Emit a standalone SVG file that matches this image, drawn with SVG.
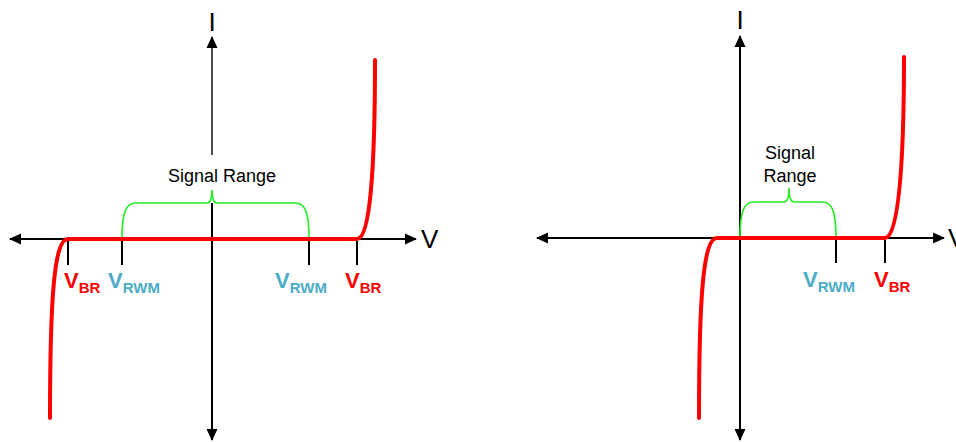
<svg xmlns="http://www.w3.org/2000/svg" width="956" height="442" viewBox="0 0 956 442">
<defs>
<marker id="arr" viewBox="0 0 12 12" refX="11" refY="6" markerWidth="12" markerHeight="12" markerUnits="userSpaceOnUse" orient="auto-start-reverse">
<path d="M0,0.5 L12,6 L0,11.5 Z" fill="#000"/>
</marker>
<style>
.axis{stroke:#000;stroke-width:2;fill:none}
.tick{stroke:#000;stroke-width:2}
.curve{stroke:#ff0000;stroke-width:4;fill:none;stroke-linecap:round;stroke-linejoin:round}
.brace{stroke:#22ee22;stroke-width:1.6;fill:none}
.axlbl{font-family:"Liberation Sans",Arial,sans-serif;font-size:26px;fill:#000}
.sig{font-family:"Liberation Sans",Arial,sans-serif;font-size:18px;fill:#000;text-anchor:middle}
.lbl{font-family:"Liberation Sans",Arial,sans-serif;font-weight:bold;font-size:22px}
.sub{font-size:15px}
.red{fill:#ff0000}
.blue{fill:#4bacc6}
</style>
</defs>

<g id="left-diagram">
  <g id="left-axes">
    <line class="axis" x1="10" y1="239" x2="416" y2="239" marker-start="url(#arr)" marker-end="url(#arr)"/>
    <line x1="212" y1="155" x2="212" y2="37" stroke="#3a3a3a" stroke-width="1.8" marker-end="url(#arr)"/>
    <line class="axis" x1="212" y1="203" x2="212" y2="440" marker-end="url(#arr)"/>
    <text class="axlbl" x="212" y="31" text-anchor="middle">I</text>
    <text class="axlbl" x="421" y="248">V</text>
  </g>
  <g id="left-signal-range">
    <path class="brace" d="M122 239 C122 212 126 203 136 203 H207 Q212 203 212 190 Q212 203 217 203 H295 C305 203 309 212 309 239"/>
    <text class="sig" x="222" y="182">Signal Range</text>
  </g>
  <g id="left-curve">
    <path class="curve" d="M50 418 C50 300 54 239 68 239 L357 239 C370 239 375 170 375 60"/>
  </g>
  <g id="left-ticks">
    <line class="tick" x1="68" y1="241" x2="68" y2="265"/>
    <line class="tick" x1="122" y1="241" x2="122" y2="265"/>
    <line class="tick" x1="309" y1="241" x2="309" y2="265"/>
    <line class="tick" x1="357" y1="241" x2="357" y2="265"/>
  </g>
  <g id="left-labels">
    <text class="lbl red" x="64" y="288">V<tspan class="sub" dy="5">BR</tspan></text>
    <text class="lbl blue" x="108" y="288">V<tspan class="sub" dy="5">RWM</tspan></text>
    <text class="lbl blue" x="275" y="288">V<tspan class="sub" dy="5">RWM</tspan></text>
    <text class="lbl red" x="345" y="288">V<tspan class="sub" dy="5">BR</tspan></text>
  </g>
</g>

<g id="right-diagram">
  <g id="right-axes">
    <line class="axis" x1="537" y1="238" x2="944" y2="238" marker-start="url(#arr)" marker-end="url(#arr)"/>
    <line class="axis" x1="740" y1="440" x2="740" y2="36" marker-start="url(#arr)" marker-end="url(#arr)"/>
    <text class="axlbl" x="740" y="29" text-anchor="middle">I</text>
    <text class="axlbl" x="948" y="247">V</text>
  </g>
  <g id="right-signal-range">
    <path class="brace" d="M740 238 C740 211 744 202 754 202 H784 Q789 202 789 188 Q789 202 794 202 H822 C832 202 836 211 836 238"/>
    <text class="sig" x="790" y="159">Signal</text>
    <text class="sig" x="790" y="182">Range</text>
  </g>
  <g id="right-curve">
    <path class="curve" d="M699 418 C699 300 703 238 717 238 L885 238 C898 238 904 170 904 57"/>
  </g>
  <g id="right-ticks">
    <line class="tick" x1="836" y1="240" x2="836" y2="263"/>
    <line class="tick" x1="885" y1="240" x2="885" y2="263"/>
  </g>
  <g id="right-labels">
    <text class="lbl blue" x="803" y="287">V<tspan class="sub" dy="5">RWM</tspan></text>
    <text class="lbl red" x="874" y="287">V<tspan class="sub" dy="5">BR</tspan></text>
  </g>
</g>
</svg>
